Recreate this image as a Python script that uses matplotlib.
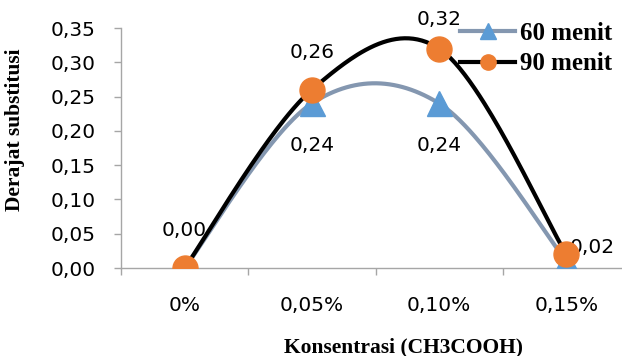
import numpy as np
import matplotlib.pyplot as plt
from matplotlib.lines import Line2D

kategori = ["0%", "0,05%", "0,10%", "0,15%"]
menit60 = [0.00, 0.24, 0.24, 0.01]
menit90 = [0.00, 0.26, 0.32, 0.02]
yticks = [0.00, 0.05, 0.10, 0.15, 0.20, 0.25, 0.30, 0.35]


def kurva_halus(y, n=60):
    # bezier antar titik, titik kontrol dari tetangga (gaya garis halus excel)
    x = np.arange(len(y), dtype=float)
    P = np.column_stack([x, y])
    xs, ys = [], []
    for i in range(len(P) - 1):
        p0 = P[i - 1] if i > 0 else P[i]
        p3 = P[i + 2] if i + 2 < len(P) else P[i + 1]
        c1 = P[i] + (P[i + 1] - p0) / 6
        c2 = P[i + 1] - (p3 - P[i]) / 6
        t = np.linspace(0, 1, n)[:, None]
        b = ((1 - t) ** 3) * P[i] + 3 * ((1 - t) ** 2) * t * c1 + 3 * (1 - t) * t ** 2 * c2 + t ** 3 * P[i + 1]
        xs.extend(b[:, 0])
        ys.extend(b[:, 1])
    return xs, ys


fig = plt.figure(figsize=(6.22, 3.56), dpi=100)
ax = fig.add_axes([121 / 622, 1 - 268 / 356, 509 / 622, 240 / 356])

x = np.arange(len(kategori))
xs, ys = kurva_halus(menit60)
ax.plot(xs, ys, color="#8497B0", lw=3, solid_capstyle="round", zorder=2)
ax.plot(x, menit60, ls="none", marker="^", ms=18, color="#5B9BD5", zorder=3)
xs, ys = kurva_halus(menit90)
ax.plot(xs, ys, color="black", lw=3, solid_capstyle="round", zorder=4)
ax.plot(x, menit90, ls="none", marker="o", ms=18, color="#ED7D31", zorder=5)

lab = dict(fontsize=14.5, family="DejaVu Sans", ha="center", va="center",
           textcoords="offset points")
ax.annotate("0,00", (0, menit90[0]), xytext=(0, 27), **lab)
ax.annotate("0,26", (1, menit90[1]), xytext=(0, 27), **lab)
ax.annotate("0,32", (2, menit90[2]), xytext=(0, 21), **lab)
ax.annotate("0,24", (1, menit60[1]), xytext=(0, -30), **lab)
ax.annotate("0,24", (2, menit60[2]), xytext=(0, -30), **lab)
ax.annotate("0,02", (3, menit90[3]), xytext=(2, 5), fontsize=14.5,
            family="DejaVu Sans", ha="left", va="center", textcoords="offset points")

ax.set_xlim(-0.5, 3.5)
ax.set_ylim(0, 0.35)
ax.set_yticks(yticks)
ax.set_yticklabels([f"{v:.2f}".replace(".", ",") for v in yticks])
ax.set_xticks(x)
ax.set_xticklabels(kategori)
ax.set_xticks(np.arange(-0.5, 4, 1), minor=True)
ax.tick_params(axis="x", which="major", length=0, pad=20)
ax.tick_params(axis="x", which="minor", length=5, color="#A6A6A6", width=1)
ax.tick_params(axis="y", length=5, color="#A6A6A6", width=1, pad=13)
for t in ax.get_xticklabels() + ax.get_yticklabels():
    t.set_fontsize(14.5)
    t.set_family("DejaVu Sans")

for s in ["top", "right"]:
    ax.spines[s].set_visible(False)
for s in ["left", "bottom"]:
    ax.spines[s].set_color("#A6A6A6")
    ax.spines[s].set_linewidth(1)

judul = dict(family="Liberation Serif", weight="bold", fontsize=15.5)
fig.text(15 / 622, 1 - 130 / 356, "Derajat substitusi", rotation=90,
         ha="center", va="center", **judul)
fig.text(404 / 622, 1 - 347 / 356, "Konsentrasi (CH3COOH)", ha="center", va="center", **judul)

h60 = Line2D([], [], color="#8497B0", lw=3, marker="^", ms=11,
             markerfacecolor="#5B9BD5", markeredgecolor="#5B9BD5")
h90 = Line2D([], [], color="black", lw=3, marker="o", ms=11,
             markerfacecolor="#ED7D31", markeredgecolor="#ED7D31")
fig.legend([h60, h90], ["60 menit", "90 menit"], loc="upper left",
           bbox_to_anchor=(460 / 622, 1 - 22 / 356), frameon=False,
           prop=dict(family="Liberation Serif", weight="bold", size=18),
           handlelength=2.2, handletextpad=0.2, labelspacing=0.3,
           borderpad=0, borderaxespad=0)

fig.savefig("out.png", dpi=100)
